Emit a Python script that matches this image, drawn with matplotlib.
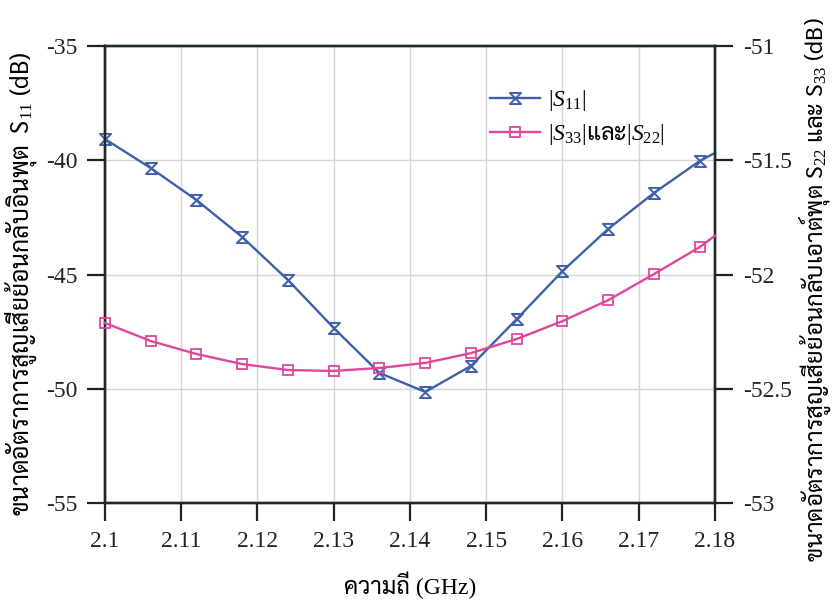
import matplotlib
matplotlib.use("Agg")
import matplotlib.pyplot as plt
from matplotlib.path import Path

plt.rcParams["font.family"] = ["Liberation Serif", "Sarabun"]
plt.rcParams["mathtext.fontset"] = "custom"
plt.rcParams["mathtext.rm"] = "Liberation Serif"
plt.rcParams["mathtext.it"] = "Liberation Serif:italic"

# frequency points (GHz); last point is the line end at the axis edge (no marker)
freq = [2.100, 2.106, 2.112, 2.118, 2.124, 2.130, 2.136, 2.142,
        2.148, 2.154, 2.160, 2.166, 2.172, 2.178, 2.180]
s11 = [-39.07, -40.34, -41.74, -43.36, -45.24, -47.34, -49.31, -50.14,
       -49.00, -46.95, -44.85, -43.00, -41.43, -40.03, -39.68]
s22_s33 = [-52.212, -52.291, -52.348, -52.392, -52.418, -52.422, -52.409, -52.387,
           -52.344, -52.282, -52.204, -52.112, -51.998, -51.880, -51.830]

xticks = [2.1, 2.11, 2.12, 2.13, 2.14, 2.15, 2.16, 2.17, 2.18]
xticklabels = ["2.1", "2.11", "2.12", "2.13", "2.14", "2.15", "2.16", "2.17", "2.18"]
left_ticks = [-55, -50, -45, -40, -35]
right_ticks = [-53, -52.5, -52, -51.5, -51]
right_ticklabels = ["-53", "-52.5", "-52", "-51.5", "-51"]

blue = "#3f5fae"
pink = "#e0479a"

hourglass = Path([(-1, 1), (1, 1), (-1, -1), (1, -1), (-1, 1)],
                 [Path.MOVETO, Path.LINETO, Path.LINETO, Path.LINETO, Path.CLOSEPOLY])

fig = plt.figure(figsize=(8.35, 6.08), dpi=100)
ax = fig.add_axes([0.1257, 0.1727, 0.7306, 0.7516])
ax2 = ax.twinx()

marks = list(range(len(freq) - 1))
l1, = ax.plot(freq, s11, color=blue, lw=1.7, marker=hourglass, markersize=8,
              markerfacecolor="none", markeredgecolor=blue, markeredgewidth=1.4,
              markevery=marks, clip_on=False, zorder=5)
l2, = ax2.plot(freq, s22_s33, color=pink, lw=1.7, marker="s", markersize=7,
               markerfacecolor="none", markeredgecolor=pink, markeredgewidth=1.3,
               markevery=marks, clip_on=False, zorder=5)

ax.set_xlim(2.1, 2.18)
ax.set_ylim(-55, -35)
ax2.set_ylim(-53, -51)
ax.set_xticks(xticks)
ax.set_xticklabels(xticklabels)
ax.set_yticks(left_ticks)
ax.set_yticklabels([str(t) for t in left_ticks])
ax2.set_yticks(right_ticks)
ax2.set_yticklabels(right_ticklabels)

ax.grid(True, color="#d4d4d4", lw=1.0)
ax.set_axisbelow(True)

for a in (ax, ax2):
    a.tick_params(direction="out", length=13, width=1.6, labelsize=17, pad=7, colors="#222222")
    for sp in a.spines.values():
        sp.set_linewidth(1.7)
        sp.set_color("#1e2a24")

ax.set_xlabel("ความถี่ (GHz)", fontsize=17, labelpad=14)
ylab_l = ax.set_ylabel("ขนาดอัตราการสูญเสียย้อนกลับอินพุต  S$_{11}$ (dB)",
                       fontsize=16, family="Sarabun")
ylab_r = ax2.set_ylabel("ขนาดอัตราการสูญเสียย้อนกลับเอาต์พุต S$_{22}$ และ S$_{33}$ (dB)",
                        fontsize=16, family="Sarabun", rotation=90)
ax.yaxis.set_label_coords(-0.108, 0.481)
ax2.yaxis.set_label_coords(1.136, 0.466)

# fit the long Thai labels to the height they take in the reference
fig.canvas.draw()
r = fig.canvas.get_renderer()
for lab, target in ((ylab_l, 465.0), (ylab_r, 545.0)):
    h = lab.get_window_extent(r).height
    lab.set_fontsize(lab.get_fontsize() * target / h)

ax.legend([l1, l2], [r"$|S_{11}|$", r"$|S_{33}|$และ$|S_{22}|$"],
          loc="upper left", bbox_to_anchor=(0.597, 0.955), frameon=False,
          prop={"family": "Sarabun", "size": 17},
          handlelength=2.1, handletextpad=0.35, labelspacing=0.4)

fig.savefig("out.png", dpi=100)
